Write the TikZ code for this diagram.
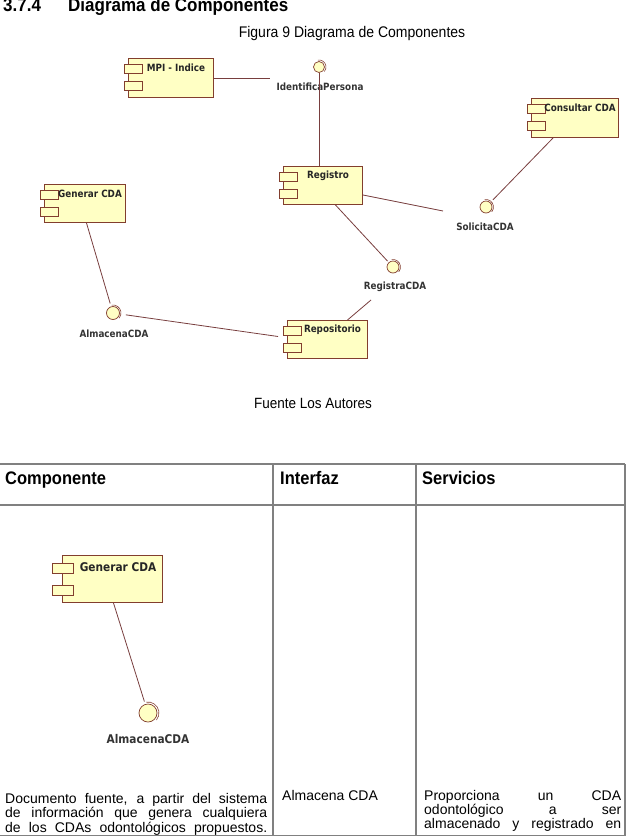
\documentclass[tikz,border=0pt]{standalone}
\usepackage{fontspec}
\setmainfont{Liberation Sans}
\newfontfamily\umlfont[FakeStretch=0.88]{DejaVu Sans}
\usetikzlibrary{calc}
\definecolor{compfill}{RGB}{255,255,196}
\definecolor{compline}{RGB}{130,62,46}
\definecolor{conn}{RGB}{120,62,62}
\definecolor{tabline}{RGB}{128,128,128}
\newcommand\vs[1]{\scalebox{1}[1.1]{#1}}
\newcommand\umlcomp[6]{%
  \node[compbox, minimum width=#4, minimum height=#5] (#1) at (#2,#3) {};
  \draw[tabbox] ($(#1.north west)+(-4,6)$) rectangle ++(18,9);
  \draw[tabbox] ($(#1.north west)+(-4,23)$) rectangle ++(18,9);
  \node[complabel] (#1-l) at ($(#1.north)+(5,10)$) {#6};
}
\newcommand\umliface[6]{%
  \node[iface, minimum size=#4] (#1) at (#2,#3) {};
  \draw[ifarc] (#1.center) ++(-100:#5) arc[start angle=-100, end angle=40, radius=#5];
}
\begin{document}
\begin{tikzpicture}[x=1pt,y=-1pt,
  compbox/.style={draw=compline, fill=compfill, line width=1pt, inner sep=0pt, anchor=north west},
  tabbox/.style={draw=compline, fill=compfill, line width=0.9pt},
  complabel/.style={font=\umlfont\bfseries\fontsize{10}{11}\selectfont, text=black!85, inner sep=0pt},
  iface/.style={circle, draw=compline, fill=compfill, line width=0.7pt, inner sep=0pt},
  ifarc/.style={draw=compline, line width=0.6pt},
  ilabel/.style={font=\umlfont\bfseries\fontsize{10}{11}\selectfont, text=black!80, inner sep=0pt},
  wire/.style={draw=conn, line width=0.8pt},
  gridline/.style={draw=tabline, line width=1.4pt},
  body/.style={font=\fontsize{14}{16}\selectfont, inner sep=0pt, anchor=base west},
  head/.style={font=\fontsize{16.5}{19}\selectfont\bfseries, inner sep=0pt, anchor=base west}
]
\useasboundingbox (0,0) rectangle (626,838);

% headings
\node[font=\fontsize{17}{20}\selectfont\bfseries, inner sep=0pt, anchor=base west] (secnum) at (3,11.5) {\vs{3.7.4}};
\node[font=\fontsize{17}{20}\selectfont\bfseries, inner sep=0pt, anchor=base west] (sectitle) at (68,11.5) {\vs{Diagrama de Componentes}};
\node[font=\fontsize{14}{16}\selectfont, inner sep=0pt, anchor=base] (caption) at (352,37) {\vs{Figura 9 Diagrama de Componentes}};
\node[font=\fontsize{13.5}{16}\selectfont, inner sep=0pt, anchor=base] (source) at (313,408) {\vs{Fuente Los Autores}};

% components
\umlcomp{mpi}{128}{58}{85}{39}{MPI - Indice}
\umlcomp{reg}{283}{166}{79}{38}{Registro}
\umlcomp{cons}{531}{98}{87}{39}{Consultar CDA}
\umlcomp{gen}{44}{184}{81}{38}{Generar CDA}
\umlcomp{repo}{287}{320}{80}{38}{Repositorio}

% interfaces
\umliface{idp}{319}{67}{11}{7}{}
\umliface{sol}{486}{207}{12}{7.5}{}
\umliface{rc}{393}{267}{12}{7.5}{}
\umliface{alm}{113}{313}{13}{8}{}
\node[ilabel] (idp-l) at (320,87) {IdentificaPersona};
\node[ilabel] (sol-l) at (485,227) {SolicitaCDA};
\node[ilabel] (rc-l) at (395,287) {RegistraCDA};
\node[ilabel] (alm-l) at (114,334) {AlmacenaCDA};

% connectors
\coordinate (idpend) at (270,78);
\draw[wire] (mpi.east) -- (idpend);
\draw[wire] (idp.south) -- (idp.south |- reg.north);
\coordinate (regsol) at ($(reg.south east)+(0,-10)$);
\coordinate (solend) at (443,211);
\draw[wire] (regsol) -- (solend);
\coordinate (consend) at ($(cons.south west)+(22,0)$);
\draw[wire, shorten <=10pt] (sol.center) -- (consend);
\coordinate (regrc) at ($(reg.south)+(12.5,0)$);
\draw[wire, shorten >=8pt] (regrc) -- (rc.center);
\coordinate (genalm) at ($(gen.south)+(1.5,0)$);
\draw[wire, shorten >=10pt] (genalm) -- (alm.center);
\coordinate (repoin) at ($(repo.west)+(-9,-3)$);
\draw[wire, shorten <=13pt] (alm.center) -- (repoin);
\coordinate (reporc) at (371,300);
\coordinate (repotop) at ($(repo.north)+(20,0)$);
\draw[wire] (repotop) -- (reporc);

% table
\draw[gridline] (0,464) -- (625,464);
\draw[gridline] (0,505) -- (625,505);
\draw[gridline] (0,835.5) -- (625,835.5);
\draw[gridline] (625,464) -- (625,835.5);
\draw[gridline] (273,464) -- (273,835.5);
\draw[gridline] (416,464) -- (416,835.5);

\node[head] (h1) at (5,484) {\vs{Componente}};
\node[head] (h2) at (280,484) {\vs{Interfaz}};
\node[head] (h3) at (422,484) {\vs{Servicios}};

% table component picture
\node[compbox, minimum width=100, minimum height=47] (tgen) at (62,555) {};
\draw[tabbox] (52,563) rectangle (73,573);
\draw[tabbox] (52,585) rectangle (73,595);
\node[complabel, font=\umlfont\bfseries\fontsize{12}{13}\selectfont] (tgen-l) at (118,567) {Generar CDA};
\node[iface, minimum size=18] (talm) at (148,713) {};
\draw[ifarc] (talm.center) ++(-100:11) arc[start angle=-100, end angle=40, radius=11];
\node[ilabel, font=\umlfont\bfseries\fontsize{12}{13}\selectfont] (talm-l) at (148,739) {AlmacenaCDA};
\coordinate (tgenout) at ($(tgen.south)+(1,0)$);
\draw[wire, shorten >=12pt] (tgenout) -- (talm.center);

% table body
\node[body] (c1a) at (5,803) {\makebox[262pt][s]{Documento fuente, a partir del sistema}};
\node[body] (c1b) at (5,817.5) {\makebox[262pt][s]{de información que genera cualquiera}};
\node[body] (c1c) at (5,832) {\makebox[262pt][s]{de los CDAs odontológicos propuestos.}};
\node[body] (c2a) at (282,800) {Almacena CDA};
\node[body] (c3a) at (424,800) {\makebox[197pt][s]{Proporciona un CDA}};
\node[body] (c3b) at (424,814) {\makebox[197pt][s]{odontológico a ser}};
\node[body] (c3c) at (424,828) {\makebox[197pt][s]{almacenado y registrado en}};
\end{tikzpicture}
\end{document}
